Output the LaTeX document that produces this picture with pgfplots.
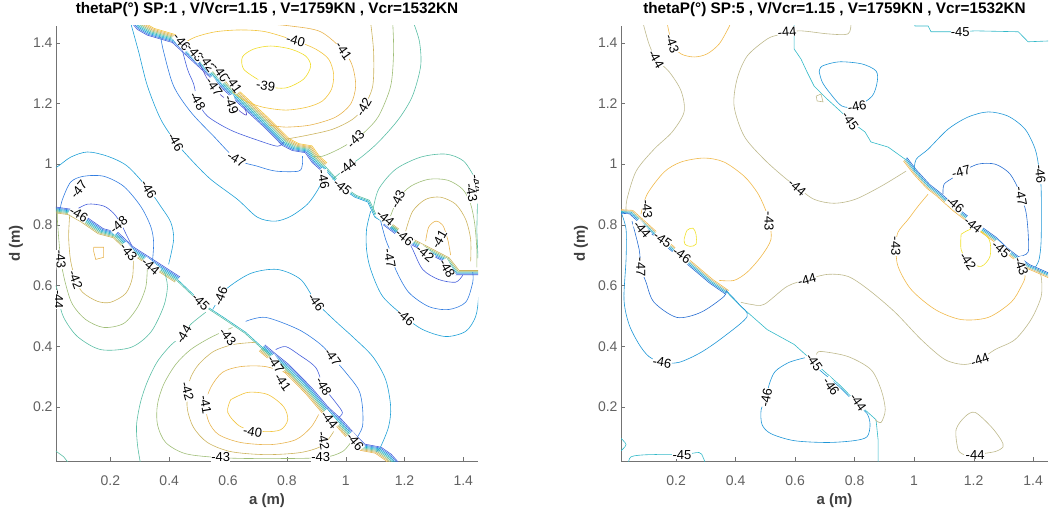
\documentclass[border=0pt]{standalone}
\usepackage{fontspec}
\setmainfont{Liberation Sans}
\usepackage{pgfplots}
\usepackage{pgfplotstable}
\pgfplotsset{compat=1.18}

\definecolor{L39}{RGB}{240,220,40}
\definecolor{L40}{RGB}{242,196,62}
\definecolor{L41}{RGB}{232,180,80}
\definecolor{L42}{RGB}{205,180,95}
\definecolor{L43}{RGB}{160,190,120}
\definecolor{L44}{RGB}{90,190,165}
\definecolor{L45}{RGB}{40,180,195}
\definecolor{L46}{RGB}{30,160,215}
\definecolor{L47}{RGB}{50,125,225}
\definecolor{L48}{RGB}{70,95,220}
\definecolor{L49}{RGB}{90,80,200}
\definecolor{R42}{RGB}{240,225,40}
\definecolor{R43}{RGB}{240,185,75}
\definecolor{R44}{RGB}{190,185,140}
\definecolor{R45}{RGB}{50,185,200}
\definecolor{R46}{RGB}{30,150,215}
\definecolor{R47}{RGB}{40,110,210}

\tikzset{sh/.style={xshift=#1*0.85pt, yshift=#1*0.85pt},
  clab/.style={font=\fontsize{13}{13}\selectfont, fill=white, inner sep=0.3pt, text=black}}
\newcommand{\CL}[4]{\node[clab, rotate=#3] at (axis cs:#1,#2) {#4};}

\pgfplotsset{panel/.style={
  scale only axis, height=435pt,
  xmin=0.015, xmax=1.45, ymin=0.022, ymax=1.455,
  axis lines=left, axis line style={-, draw=black!55},
  tick align=inside, major tick length=4pt, tick style={black!55},
  xtick={0.2,0.4,0.6,0.8,1,1.2,1.4}, ytick={0.2,0.4,0.6,0.8,1,1.2,1.4},
  /pgf/number format/assume math mode=true,
  ticklabel style={font=\fontsize{14}{14}\selectfont, text=black!62},
  xticklabel style={yshift=-11pt},
  label style={font=\bfseries\fontsize{15}{15}\selectfont, text=black!75},
  title style={font=\bfseries\fontsize{15.3}{15.3}\selectfont, at={(axis description cs:0.5,1.025)}, anchor=center},
  xlabel style={at={(axis description cs:0.5,-0.09)}, anchor=center},
  every axis plot/.append style={line width=0.6pt},
  xlabel={a (m)}, ylabel={d (m)},
}}

% ---------- left panel bundles
\pgfplotstableread{
a d
0.290 1.470
0.303 1.455
0.337 1.436
0.422 1.412
0.728 1.139
0.796 1.073
0.830 1.056
0.874 1.049
0.898 1.016
0.925 0.993
}\LBa
\pgfplotstableread{
a d
0.925 0.993
0.989 0.924
1.034 0.894
1.078 0.878
1.102 0.828
1.136 0.809
1.214 0.752
}\LBb
\pgfplotstableread{
a d
1.136 0.809
1.214 0.752
1.346 0.686
1.380 0.644
1.470 0.644
}\LBc
\pgfplotstableread{
a d
0.000 0.851
0.065 0.842
0.109 0.818
0.167 0.779
0.218 0.766
0.269 0.719
0.337 0.677
0.428 0.620
}\LBd
\pgfplotstableread{
a d
0.428 0.620
0.517 0.538
0.585 0.495
0.660 0.446
0.717 0.396
0.745 0.373
}\LBe
\pgfplotstableread{
a d
0.717 0.396
0.745 0.373
0.796 0.333
0.874 0.257
0.932 0.191
0.976 0.152
1.023 0.102
1.057 0.069
1.112 0.059
1.146 0.036
1.170 0.010
}\LBf
% ---------- right panel bundles
\pgfplotstableread{
a d
0.000 0.845
0.049 0.842
0.143 0.759
0.271 0.653
0.318 0.614
0.371 0.578
0.418 0.531
0.506 0.455
0.597 0.406
0.664 0.347
0.748 0.274
0.815 0.208
0.872 0.158
0.879 0.092
0.879 0.010
}\RBlow
\pgfplotstableread{
a d
0.000 0.845
0.049 0.842
0.143 0.759
0.271 0.653
0.318 0.614
0.371 0.578
}\RBa
\pgfplotstableread{
a d
0.597 1.465
0.597 1.422
0.597 1.379
0.620 1.346
0.640 1.304
0.664 1.257
0.708 1.214
0.755 1.172
0.785 1.142
0.835 1.106
0.855 1.073
0.913 1.056
0.970 1.016
1.003 0.974
1.047 0.927
1.081 0.901
1.138 0.851
1.225 0.785
1.272 0.752
1.306 0.719
1.350 0.686
1.383 0.663
1.407 0.653
1.460 0.630
}\RBup
\pgfplotstableread{
a d
0.970 1.016
1.003 0.974
1.047 0.927
1.081 0.901
1.138 0.851
1.225 0.785
1.272 0.752
1.306 0.719
1.350 0.686
1.383 0.663
1.407 0.653
1.460 0.630
}\RBb

\begin{document}
\begin{tikzpicture}
\useasboundingbox (0,0) rectangle (1049pt,512pt);
% ================= LEFT =================
\begin{axis}[panel, at={(56pt,51pt)}, anchor=south west, width=422pt,
  ylabel style={at={(axis description cs:-0.095,0.5)}, anchor=center},
  title={thetaP(°) SP:1 , V/Vcr=1.15 , V=1759KN , Vcr=1532KN}]
% bundles
\addplot[L48, sh=-4] table {\LBa};
\addplot[L47, sh=-3] table {\LBa};
\addplot[L46, sh=-2] table {\LBa};
\addplot[L45, sh=-1] table {\LBa};
\addplot[L44, sh=0] table {\LBa};
\addplot[L43, sh=1] table {\LBa};
\addplot[L42, sh=2] table {\LBa};
\addplot[L41, sh=3] table {\LBa};
\addplot[L40, sh=4] table {\LBa};
\addplot[L46, sh=-1] table {\LBb};
\addplot[L45, sh=0] table {\LBb};
\addplot[L44, sh=1] table {\LBb};
\addplot[L48, sh=-3] table {\LBc};
\addplot[L47, sh=-2] table {\LBc};
\addplot[L46, sh=-1] table {\LBc};
\addplot[L44, sh=0] table {\LBc};
\addplot[L43, sh=1] table {\LBc};
\addplot[L42, sh=2] table {\LBc};
\addplot[L48, sh=3] table {\LBd};
\addplot[L47, sh=2] table {\LBd};
\addplot[L46, sh=1] table {\LBd};
\addplot[L45, sh=0] table {\LBd};
\addplot[L44, sh=-1] table {\LBd};
\addplot[L43, sh=-2] table {\LBd};
\addplot[L42, sh=-3] table {\LBd};
\addplot[L45, sh=0] table {\LBe};
\addplot[L44, sh=-1] table {\LBe};
\addplot[L48, sh=3] table {\LBf};
\addplot[L47, sh=2] table {\LBf};
\addplot[L46, sh=1] table {\LBf};
\addplot[L45, sh=0] table {\LBf};
\addplot[L44, sh=-1] table {\LBf};
\addplot[L43, sh=-2] table {\LBf};
\addplot[L42, sh=-3] table {\LBf};
\addplot[L41, sh=-4] table {\LBf};
% top lobe, max side
\addplot[L39, smooth] coordinates {(0.700,1.280)(0.653,1.313)(0.649,1.353)(0.687,1.379)(0.745,1.389)(0.813,1.379)(0.864,1.356)(0.881,1.323)(0.857,1.280)(0.796,1.251)(0.728,1.257)(0.700,1.280)};
\addplot[L40, smooth] coordinates {(0.445,1.396)(0.490,1.419)(0.558,1.436)(0.643,1.442)(0.728,1.436)(0.830,1.406)(0.898,1.379)(0.942,1.346)(0.959,1.297)(0.952,1.247)(0.921,1.208)(0.870,1.188)(0.796,1.178)(0.717,1.188)(0.660,1.208)(0.615,1.238)};
\addplot[L41, smooth] coordinates {(0.694,1.465)(0.813,1.455)(0.915,1.436)(0.993,1.373)(1.023,1.323)(1.034,1.257)(1.017,1.198)(0.966,1.155)(0.881,1.129)(0.796,1.122)(0.738,1.129)};
\addplot[L42, smooth] coordinates {(1.085,1.465)(1.095,1.370)(1.092,1.257)(1.061,1.188)(1.024,1.148)(0.956,1.115)(0.874,1.096)(0.796,1.082)};
\addplot[L43, smooth] coordinates {(1.160,1.465)(1.163,1.370)(1.153,1.257)(1.112,1.158)(1.068,1.109)(1.034,1.082)(0.976,1.049)(0.921,1.026)(0.887,1.026)};
\addplot[L44, smooth] coordinates {(1.231,1.465)(1.251,1.403)(1.255,1.323)(1.227,1.224)(1.180,1.148)(1.112,1.073)(1.057,1.026)(1.006,0.990)(0.955,0.950)};
% top lobe, min side
\addplot[L46, smooth] coordinates {(0.269,1.465)(0.296,1.370)(0.326,1.257)(0.371,1.148)(0.422,1.073)(0.473,1.016)(0.541,0.950)(0.632,0.884)(0.700,0.825)(0.760,0.812)(0.813,0.828)(0.870,0.868)(0.905,0.915)(0.925,0.955)(0.932,0.980)};
\addplot[L47, smooth] coordinates {(0.371,1.419)(0.381,1.370)(0.415,1.257)(0.473,1.172)(0.551,1.092)(0.629,1.016)(0.700,0.993)(0.762,0.977)(0.840,0.977)(0.853,1.000)(0.853,1.026)};
\addplot[L48, smooth] coordinates {(0.439,1.396)(0.462,1.313)(0.483,1.264)(0.497,1.208)(0.530,1.158)(0.609,1.112)(0.700,1.079)(0.768,1.059)(0.789,1.073)};
\addplot[L49, smooth] coordinates {(0.500,1.340)(0.530,1.280)(0.568,1.234)(0.605,1.205)(0.643,1.172)(0.663,1.162)(0.656,1.188)};
% left lobe
\addplot[L46, smooth] coordinates {(0.000,0.995)(0.017,0.990)(0.065,1.023)(0.122,1.040)(0.190,1.026)(0.258,0.993)(0.330,0.917)(0.371,0.861)(0.405,0.809)(0.415,0.752)(0.398,0.670)};
\addplot[L47, smooth] coordinates {(0.030,0.855)(0.037,0.884)(0.065,0.941)(0.109,0.960)(0.177,0.960)(0.245,0.927)(0.303,0.861)(0.337,0.795)(0.347,0.743)(0.343,0.680)};
\addplot[L48, smooth] coordinates {(0.075,0.845)(0.122,0.868)(0.177,0.862)(0.211,0.838)(0.235,0.805)(0.255,0.766)(0.272,0.733)};
\addplot[L41] coordinates {(0.143,0.726)(0.177,0.726)(0.177,0.693)(0.150,0.686)(0.143,0.713)(0.143,0.726)};
\addplot[L42, smooth] coordinates {(0.062,0.838)(0.058,0.760)(0.065,0.680)(0.082,0.620)(0.105,0.578)(0.156,0.548)(0.201,0.545)(0.252,0.574)(0.275,0.627)(0.278,0.700)(0.275,0.719)};
\addplot[L43, smooth] coordinates {(0.020,0.850)(0.020,0.812)(0.031,0.686)(0.048,0.604)(0.071,0.538)(0.116,0.488)(0.177,0.462)(0.245,0.475)(0.292,0.528)(0.320,0.594)(0.326,0.660)(0.330,0.680)};
\addplot[L44, smooth] coordinates {(0.000,0.620)(0.017,0.594)(0.024,0.554)(0.041,0.495)(0.088,0.432)(0.167,0.389)(0.269,0.396)(0.337,0.446)(0.381,0.531)(0.394,0.597)(0.384,0.644)};
\addplot[L44] coordinates {(0.000,0.060)(0.017,0.053)(0.041,0.036)(0.058,0.015)};
% bottom lobe
\addplot[L40, smooth] coordinates {(0.609,0.224)(0.667,0.248)(0.735,0.241)(0.789,0.201)(0.803,0.158)(0.779,0.125)(0.721,0.119)(0.643,0.135)(0.599,0.182)(0.609,0.224)};
\addplot[L41, smooth] coordinates {(0.813,0.307)(0.728,0.333)(0.643,0.333)(0.581,0.314)(0.541,0.264)(0.524,0.208)(0.534,0.152)(0.568,0.109)(0.643,0.083)(0.745,0.076)(0.830,0.092)(0.881,0.132)(0.908,0.175)};
\addplot[L42, smooth] coordinates {(0.694,0.413)(0.619,0.406)(0.551,0.383)(0.500,0.340)(0.473,0.297)(0.462,0.251)(0.462,0.191)(0.483,0.132)(0.530,0.083)(0.609,0.053)(0.728,0.043)(0.847,0.050)(0.921,0.073)(0.959,0.119)};
\addplot[L43, smooth] coordinates {(0.615,0.462)(0.541,0.429)(0.473,0.389)(0.422,0.340)(0.381,0.274)(0.360,0.208)(0.360,0.142)(0.388,0.083)(0.456,0.046)(0.575,0.033)(0.711,0.030)(0.915,0.033)(0.989,0.053)(1.023,0.092)};
\addplot[L44, smooth] coordinates {(0.524,0.512)(0.473,0.472)(0.449,0.439)(0.405,0.403)(0.360,0.350)(0.326,0.284)(0.303,0.218)(0.289,0.142)(0.292,0.076)(0.303,0.010)};
\addplot[L46, smooth] coordinates {(0.548,0.521)(0.558,0.538)(0.592,0.587)(0.677,0.640)(0.768,0.653)(0.847,0.620)(0.900,0.545)(0.966,0.482)(1.023,0.432)(1.092,0.366)(1.136,0.290)(1.153,0.201)(1.146,0.135)(1.119,0.069)(1.105,0.053)};
\addplot[L47, smooth] coordinates {(0.660,0.482)(0.728,0.495)(0.840,0.455)(0.915,0.406)(0.956,0.363)(1.000,0.314)(1.044,0.257)(1.057,0.201)(1.057,0.135)(1.034,0.092)};
\addplot[L48, smooth] coordinates {(0.762,0.389)(0.796,0.399)(0.840,0.373)(0.898,0.330)(0.925,0.267)(0.966,0.215)(0.989,0.182)(0.976,0.165)};
% right lobe
\addplot[L44, smooth] coordinates {(1.092,0.845)(1.112,0.917)(1.170,0.983)(1.255,1.023)(1.340,1.033)(1.401,1.010)(1.442,0.950)(1.459,0.917)};
\addplot[L44] coordinates {(1.448,0.870)(1.446,0.780)(1.450,0.690)};
\addplot[L43, smooth] coordinates {(1.146,0.812)(1.177,0.884)(1.221,0.927)(1.282,0.950)(1.347,0.947)(1.398,0.917)(1.425,0.868)(1.439,0.802)(1.446,0.719)(1.446,0.660)};
\addplot[L42, smooth] coordinates {(1.204,0.779)(1.228,0.845)(1.272,0.884)(1.323,0.891)(1.374,0.868)(1.408,0.818)(1.425,0.752)(1.425,0.680)};
\addplot[L41, smooth] coordinates {(1.272,0.746)(1.282,0.792)(1.306,0.812)(1.330,0.799)(1.347,0.752)(1.357,0.700)};
\addplot[L46, smooth] coordinates {(1.085,0.845)(1.071,0.785)(1.071,0.719)(1.085,0.653)(1.126,0.564)(1.204,0.495)(1.262,0.455)(1.340,0.432)(1.408,0.449)(1.442,0.498)(1.452,0.564)(1.452,0.637)};
\addplot[L47, smooth] coordinates {(1.119,0.812)(1.136,0.752)(1.153,0.710)(1.170,0.653)(1.214,0.578)(1.282,0.531)(1.350,0.521)(1.408,0.545)(1.432,0.610)(1.432,0.644)};
\addplot[L48, smooth] coordinates {(1.204,0.766)(1.228,0.719)(1.262,0.653)(1.316,0.620)(1.374,0.611)(1.398,0.634)};
% labels
\CL{0.728}{1.257}{-10}{-39}
\CL{0.830}{1.406}{-15}{-40}
\CL{0.993}{1.373}{-55}{-41}
\CL{1.061}{1.188}{60}{-42}
\CL{1.034}{1.082}{45}{-43}
\CL{1.006}{0.990}{40}{-44}
\CL{0.989}{0.924}{-40}{-45}
\CL{0.925}{0.950}{-80}{-46}
\CL{0.422}{1.073}{-60}{-46}
\CL{0.629}{1.016}{-30}{-47}
\CL{0.497}{1.208}{-60}{-48}
\CL{0.612}{1.195}{-70}{-49}
\CL{0.443}{1.402}{-50}{-46}
\CL{0.488}{1.366}{-50}{-43}
\CL{0.530}{1.333}{-55}{-42}
\CL{0.575}{1.300}{-55}{-40}
\CL{0.620}{1.265}{-55}{-41}
\CL{0.553}{1.255}{-55}{-47}
\CL{0.092}{0.917}{50}{-47}
\CL{0.330}{0.917}{-60}{-46}
\CL{0.092}{0.835}{-30}{-46}
\CL{0.228}{0.800}{40}{-48}
\CL{0.031}{0.686}{-85}{-43}
\CL{0.082}{0.620}{-70}{-42}
\CL{0.024}{0.554}{-90}{-44}
\CL{0.262}{0.710}{-50}{-43}
\CL{0.337}{0.663}{-40}{-44}
\CL{0.507}{0.545}{-45}{-45}
\CL{0.575}{0.564}{70}{-46}
\CL{0.900}{0.545}{-55}{-46}
\CL{0.449}{0.439}{60}{-44}
\CL{0.599}{0.432}{-50}{-43}
\CL{0.956}{0.363}{-55}{-47}
\CL{0.925}{0.267}{-60}{-48}
\CL{0.462}{0.251}{-75}{-42}
\CL{0.524}{0.208}{-80}{-41}
\CL{0.684}{0.119}{-10}{-40}
\CL{0.575}{0.035}{0}{-43}
\CL{0.915}{0.035}{0}{-43}
\CL{0.762}{0.340}{-55}{-47}
\CL{0.786}{0.281}{-55}{-41}
\CL{0.945}{0.158}{-50}{-44}
\CL{1.032}{0.085}{-50}{-46}
\CL{0.925}{0.088}{-80}{-42}
\CL{1.177}{0.884}{65}{-43}
\CL{1.446}{0.935}{-80}{-44}
\CL{1.428}{0.905}{-80}{-43}
\CL{1.135}{0.822}{-40}{-44}
\CL{1.200}{0.758}{-40}{-46}
\CL{1.270}{0.706}{-40}{-42}
\CL{1.318}{0.752}{60}{-41}
\CL{1.150}{0.690}{-80}{-47}
\CL{1.345}{0.655}{-60}{-48}
\CL{1.204}{0.495}{-40}{-46}
\end{axis}
% ================= RIGHT =================
\begin{axis}[panel, at={(621pt,51pt)}, anchor=south west, width=427pt,
  ylabel style={at={(axis description cs:-0.094,0.5)}, anchor=center},
  title={thetaP(°) SP:5 , V/Vcr=1.15 , V=1759KN , Vcr=1532KN}]
\addplot[R47, sh=-2] table {\RBa};
\addplot[R46, sh=-1] table {\RBa};
\addplot[R44, sh=1] table {\RBa};
\addplot[R43, sh=2] table {\RBa};
\addplot[R45] table {\RBlow};
\addplot[R45] table {\RBup};
\addplot[R46, sh=1] table {\RBb};
\addplot[R47, sh=2] table {\RBb};
\addplot[R44, sh=-1] table {\RBb};
\addplot[R43, sh=-2] table {\RBb};
\addplot[R43, smooth] coordinates {(0.170,1.465)(0.187,1.396)(0.217,1.363)(0.261,1.353)(0.304,1.363)(0.345,1.396)(0.378,1.452)(0.382,1.465)};
\addplot[R44, smooth] coordinates {(0.089,1.465)(0.109,1.396)(0.133,1.346)(0.177,1.304)(0.217,1.241)(0.227,1.172)(0.187,1.106)(0.126,1.049)(0.066,0.977)(0.035,0.884)(0.032,0.842)};
\addplot[R44, smooth] coordinates {(0.788,1.465)(0.778,1.429)(0.711,1.429)(0.614,1.439)(0.546,1.426)(0.506,1.412)(0.439,1.356)(0.405,1.280)(0.395,1.191)(0.429,1.092)(0.496,1.016)(0.563,0.957)(0.607,0.924)(0.664,0.884)(0.731,0.871)(0.802,0.884)(0.889,0.927)(0.973,0.977)};
\addplot[R44, smooth] coordinates {(0.418,0.545)(0.452,0.538)(0.496,0.538)(0.573,0.597)(0.640,0.620)(0.711,0.637)(0.778,0.630)(0.846,0.587)(0.936,0.512)(1.024,0.422)(1.104,0.356)(1.171,0.340)(1.221,0.356)(1.272,0.389)(1.339,0.422)(1.393,0.488)(1.427,0.564)(1.427,0.630)(1.413,0.653)};
\addplot[R43, smooth] coordinates {(0.082,0.835)(0.103,0.901)(0.160,0.974)(0.217,1.007)(0.294,1.020)(0.361,1.007)(0.429,0.960)(0.472,0.908)(0.496,0.861)(0.513,0.812)(0.519,0.752)(0.486,0.696)(0.439,0.644)(0.395,0.617)(0.345,0.617)};
\addplot[R42, smooth] coordinates {(0.227,0.752)(0.237,0.782)(0.257,0.789)(0.267,0.769)(0.267,0.736)(0.247,0.729)(0.230,0.736)(0.227,0.752)};
\addplot[R46, smooth] coordinates {(0.015,0.842)(0.032,0.785)(0.032,0.686)(0.025,0.554)(0.042,0.472)(0.076,0.406)(0.109,0.366)(0.153,0.347)(0.210,0.347)(0.284,0.380)(0.361,0.432)(0.439,0.498)(0.412,0.538)(0.371,0.581)};
\addplot[R47, smooth] coordinates {(0.052,0.812)(0.076,0.719)(0.082,0.660)(0.099,0.611)(0.126,0.545)(0.203,0.495)(0.284,0.512)(0.361,0.564)(0.368,0.587)};
\addplot[R46, smooth] coordinates {(0.637,0.363)(0.580,0.347)(0.533,0.317)(0.513,0.274)(0.503,0.231)(0.486,0.191)(0.489,0.142)(0.519,0.112)(0.597,0.089)(0.708,0.083)(0.798,0.089)(0.842,0.102)(0.852,0.142)(0.842,0.178)(0.808,0.208)(0.748,0.267)(0.681,0.323)(0.647,0.356)};
\addplot[R44, smooth] coordinates {(0.672,0.373)(0.687,0.383)(0.778,0.366)(0.855,0.323)(0.889,0.257)(0.903,0.191)(0.889,0.149)(0.869,0.158)};
\addplot[R45, smooth] coordinates {(0.040,0.010)(0.049,0.036)(0.109,0.043)(0.220,0.043)(0.277,0.050)(0.290,0.036)(0.300,0.010)};
\addplot[R45, smooth] coordinates {(0.012,0.099)(0.032,0.076)(0.012,0.053)};
\addplot[R45] coordinates {(1.000,1.465)(1.003,1.455)(1.047,1.455)(1.057,1.436)(1.114,1.436)(1.155,1.436)(1.205,1.439)(1.350,1.436)(1.383,1.403)(1.460,1.406)};
\addplot[R46, smooth] coordinates {(0.681,1.304)(0.691,1.271)(0.714,1.238)(0.758,1.191)(0.808,1.191)(0.859,1.224)(0.876,1.271)(0.872,1.307)(0.825,1.330)(0.748,1.337)(0.691,1.323)(0.681,1.304)};
\addplot[R44] coordinates {(0.671,1.224)(0.687,1.231)(0.694,1.205)(0.674,1.208)(0.671,1.224)};
\addplot[R46, smooth] coordinates {(1.000,0.977)(1.007,1.016)(1.047,1.049)(1.114,1.115)(1.181,1.155)(1.249,1.172)(1.316,1.158)(1.373,1.115)(1.407,1.049)(1.420,0.983)(1.427,0.917)(1.427,0.752)(1.420,0.686)(1.407,0.660)};
\addplot[R47, smooth] coordinates {(1.097,0.901)(1.101,0.934)(1.134,0.957)(1.158,0.974)(1.215,1.000)(1.272,1.000)(1.316,0.974)(1.339,0.941)(1.360,0.894)(1.376,0.842)(1.383,0.776)(1.383,0.710)(1.353,0.696)};
\addplot[R43, smooth] coordinates {(1.047,0.901)(1.013,0.861)(0.980,0.818)(0.946,0.776)(0.939,0.729)(0.946,0.663)(0.990,0.587)(1.071,0.521)(1.158,0.488)(1.249,0.495)(1.326,0.545)(1.360,0.597)(1.373,0.630)(1.360,0.663)};
\addplot[R42, smooth] coordinates {(1.158,0.769)(1.205,0.789)(1.252,0.752)(1.255,0.696)(1.225,0.663)(1.181,0.680)(1.158,0.719)(1.158,0.769)};
\addplot[R44, smooth] coordinates {(1.205,0.043)(1.272,0.053)(1.299,0.069)(1.292,0.092)(1.259,0.135)(1.205,0.182)(1.171,0.168)(1.141,0.125)(1.148,0.059)(1.168,0.043)};
% labels
\CL{0.187}{1.396}{-70}{-43}
\CL{0.133}{1.346}{-60}{-44}
\CL{0.573}{1.436}{5}{-44}
\CL{1.155}{1.436}{0}{-45}
\CL{0.808}{1.191}{10}{-46}
\CL{0.785}{1.142}{-55}{-45}
\CL{0.607}{0.924}{-40}{-44}
\CL{0.103}{0.851}{-85}{-43}
\CL{0.086}{0.785}{-50}{-44}
\CL{0.155}{0.752}{-35}{-45}
\CL{0.220}{0.700}{-35}{-46}
\CL{0.513}{0.812}{-90}{-43}
\CL{0.082}{0.660}{-90}{-47}
\CL{0.153}{0.347}{-10}{-46}
\CL{0.220}{0.043}{0}{-45}
\CL{0.640}{0.620}{15}{-44}
\CL{0.664}{0.347}{-55}{-45}
\CL{0.503}{0.231}{80}{-46}
\CL{0.721}{0.267}{-55}{-46}
\CL{0.812}{0.215}{-55}{-44}
\CL{1.221}{0.356}{20}{-44}
\CL{1.205}{0.043}{0}{-44}
\CL{0.939}{0.729}{-90}{-43}
\CL{1.181}{0.680}{-55}{-42}
\CL{1.292}{0.719}{-40}{-45}
\CL{1.360}{0.663}{-70}{-43}
\CL{1.138}{0.866}{-40}{-46}
\CL{1.198}{0.800}{-40}{-44}
\CL{1.158}{0.974}{15}{-47}
\CL{1.360}{0.894}{-80}{-47}
\CL{1.424}{0.967}{-85}{-46}
\end{axis}
\end{tikzpicture}
\end{document}
